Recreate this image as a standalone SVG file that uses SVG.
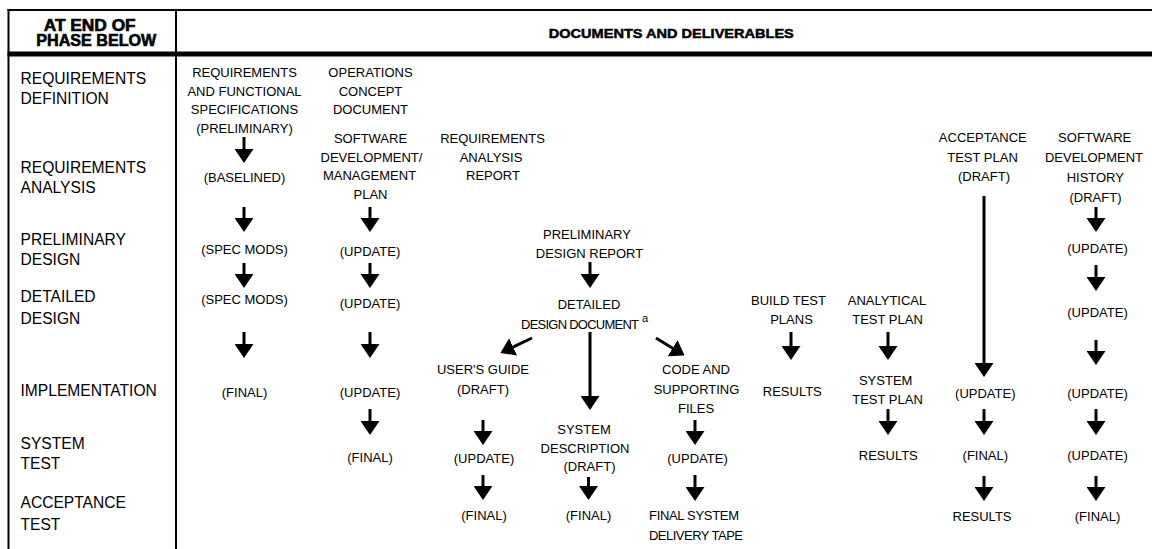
<svg xmlns="http://www.w3.org/2000/svg" width="1152" height="549" viewBox="0 0 1152 549">
<defs>
<style>
text{font-family:"Liberation Sans",Arial,sans-serif;fill:#000;}
.b{font-size:13px;text-anchor:middle;}
.s{font-size:13px;}
.ph{font-size:15.6px;}
.hd{font-size:16px;font-weight:bold;text-anchor:middle;stroke:#000;stroke-width:0.6px;}
.hd2{font-size:13px;font-weight:bold;text-anchor:middle;stroke:#000;stroke-width:0.5px;}
.sup{font-size:11px;}
.ar{stroke:#000;stroke-width:3;fill:none;marker-end:url(#ah);}
.rule{fill:#000;}
</style>
<marker id="ah" markerUnits="userSpaceOnUse" markerWidth="14" markerHeight="19" viewBox="0 0 14 19" refX="2" refY="9.5" orient="auto">
<path d="M0,0 L14,9.5 L0,19 z" fill="#000"/>
</marker>
</defs>
<rect width="1152" height="549" fill="#fff"/>

<g id="table-frame">
<rect class="rule" x="7.5" y="9" width="1144.5" height="2"/>
<rect class="rule" x="7.5" y="51.5" width="1144.5" height="5"/>
<rect class="rule" x="7.5" y="9" width="2" height="540"/>
<rect class="rule" x="175" y="9" width="2" height="540"/>
</g>

<g id="header-phase">
<text class="hd" x="89.7" y="30.7" textLength="92" lengthAdjust="spacingAndGlyphs">AT END OF</text>
<text class="hd" x="96.3" y="46" textLength="120" lengthAdjust="spacingAndGlyphs">PHASE BELOW</text>
</g>
<g id="header-docs">
<text class="hd2" x="671.3" y="37.7" textLength="245" lengthAdjust="spacingAndGlyphs">DOCUMENTS AND DELIVERABLES</text>
</g>

<g id="phases">
<text class="ph" x="20.5" y="83.5">REQUIREMENTS</text>
<text class="ph" x="20.5" y="104">DEFINITION</text>
<text class="ph" x="20.5" y="173.3">REQUIREMENTS</text>
<text class="ph" x="20.5" y="193.3">ANALYSIS</text>
<text class="ph" x="20.5" y="245">PRELIMINARY</text>
<text class="ph" x="20.5" y="265">DESIGN</text>
<text class="ph" x="20.5" y="302">DETAILED</text>
<text class="ph" x="20.5" y="323.5">DESIGN</text>
<text class="ph" x="20.5" y="396">IMPLEMENTATION</text>
<text class="ph" x="20.5" y="449">SYSTEM</text>
<text class="ph" x="20.5" y="469.3">TEST</text>
<text class="ph" x="20.5" y="508.3">ACCEPTANCE</text>
<text class="ph" x="20.5" y="529.5">TEST</text>
</g>

<g id="connectors">
<line class="ar" x1="244" y1="137" x2="244" y2="151"/>
<line class="ar" x1="244" y1="207" x2="244" y2="220"/>
<line class="ar" x1="244" y1="263" x2="244" y2="276"/>
<line class="ar" x1="244" y1="332" x2="244" y2="346"/>
<line class="ar" x1="370" y1="207" x2="370" y2="220"/>
<line class="ar" x1="370" y1="263" x2="370" y2="276"/>
<line class="ar" x1="370" y1="332" x2="370" y2="346"/>
<line class="ar" x1="370" y1="409" x2="370" y2="423"/>
<line class="ar" x1="590" y1="262" x2="590" y2="276"/>
<line class="ar" x1="590" y1="332" x2="590" y2="398"/>
<line class="ar" x1="532" y1="338" x2="511.3" y2="347.8"/>
<line class="ar" x1="656" y1="338" x2="674.3" y2="349.2"/>
<line class="ar" x1="483" y1="420" x2="483" y2="433"/>
<line class="ar" x1="483" y1="475" x2="483" y2="488"/>
<line class="ar" x1="588.5" y1="477" x2="588.5" y2="488"/>
<line class="ar" x1="695" y1="420" x2="695" y2="433"/>
<line class="ar" x1="695" y1="475" x2="695" y2="489"/>
<line class="ar" x1="791" y1="332" x2="791" y2="348"/>
<line class="ar" x1="888" y1="332" x2="888" y2="348"/>
<line class="ar" x1="888" y1="409" x2="888" y2="423"/>
<line class="ar" x1="984" y1="196" x2="984" y2="365"/>
<line class="ar" x1="984" y1="409" x2="984" y2="423"/>
<line class="ar" x1="984" y1="476" x2="984" y2="489"/>
<line class="ar" x1="1096" y1="207" x2="1096" y2="220"/>
<line class="ar" x1="1096" y1="265" x2="1096" y2="279"/>
<line class="ar" x1="1096" y1="340" x2="1096" y2="353"/>
<line class="ar" x1="1096" y1="409" x2="1096" y2="423"/>
<line class="ar" x1="1096" y1="476" x2="1096" y2="489"/>
</g>

<g id="req-func-spec">
<text class="b" x="244.5" y="77">REQUIREMENTS</text>
<text class="b" x="244.5" y="95.5">AND FUNCTIONAL</text>
<text class="b" x="244.5" y="114">SPECIFICATIONS</text>
<text class="b" x="244.5" y="132.5">(PRELIMINARY)</text>
</g>
<g id="rfs-baselined"><text class="b" x="244.5" y="182">(BASELINED)</text></g>
<g id="rfs-specmods-1"><text class="b" x="244.5" y="254">(SPEC MODS)</text></g>
<g id="rfs-specmods-2"><text class="b" x="244.5" y="304">(SPEC MODS)</text></g>
<g id="rfs-final"><text class="b" x="244.5" y="396.5">(FINAL)</text></g>

<g id="ops-concept">
<text class="b" x="370.5" y="77">OPERATIONS</text>
<text class="b" x="370.5" y="95.5">CONCEPT</text>
<text class="b" x="370.5" y="114">DOCUMENT</text>
</g>
<g id="sdmp">
<text class="b" x="370.5" y="142.7">SOFTWARE</text>
<text class="b" x="371.5" y="161.5">DEVELOPMENT/</text>
<text class="b" x="369.5" y="180.3">MANAGEMENT</text>
<text class="b" x="370.5" y="199.3">PLAN</text>
</g>
<g id="sdmp-update-1"><text class="b" x="370" y="256.3">(UPDATE)</text></g>
<g id="sdmp-update-2"><text class="b" x="370" y="308">(UPDATE)</text></g>
<g id="sdmp-update-3"><text class="b" x="370" y="396.5">(UPDATE)</text></g>
<g id="sdmp-final"><text class="b" x="370" y="461.5">(FINAL)</text></g>

<g id="req-analysis-report">
<text class="b" x="492.5" y="142.7">REQUIREMENTS</text>
<text class="b" x="491" y="161.5">ANALYSIS</text>
<text class="b" x="493" y="180.3">REPORT</text>
</g>

<g id="prelim-design-report">
<text class="b" x="587" y="239.3">PRELIMINARY</text>
<text class="b" x="589.5" y="257.7">DESIGN REPORT</text>
</g>

<g id="detailed-design-doc">
<text class="b" x="589" y="308.5">DETAILED</text>
<text class="s" x="521" y="328.5" textLength="118" lengthAdjust="spacing">DESIGN DOCUMENT</text>
<text class="sup" x="642" y="322">a</text>
</g>

<g id="users-guide">
<text class="b" x="483" y="374">USER'S GUIDE</text>
<text class="b" x="483" y="394">(DRAFT)</text>
</g>
<g id="ug-update"><text class="b" x="484" y="462.7">(UPDATE)</text></g>
<g id="ug-final"><text class="b" x="484" y="519.5">(FINAL)</text></g>

<g id="system-description">
<text class="b" x="584" y="433.5">SYSTEM</text>
<text class="b" x="585" y="452.7">DESCRIPTION</text>
<text class="b" x="589.5" y="471">(DRAFT)</text>
</g>
<g id="sd-final"><text class="b" x="588.5" y="519.5">(FINAL)</text></g>

<g id="code-files">
<text class="b" x="696" y="374">CODE AND</text>
<text class="b" x="696.5" y="394">SUPPORTING</text>
<text class="b" x="696" y="413.3">FILES</text>
</g>
<g id="code-update"><text class="b" x="697.5" y="462.7">(UPDATE)</text></g>
<g id="final-tape">
<text class="b" x="694" y="520" textLength="90" lengthAdjust="spacing">FINAL SYSTEM</text>
<text class="b" x="696" y="540" textLength="94" lengthAdjust="spacing">DELIVERY TAPE</text>
</g>

<g id="build-test-plans">
<text class="b" x="788.5" y="305">BUILD TEST</text>
<text class="b" x="791.5" y="324">PLANS</text>
</g>
<g id="build-results"><text class="b" x="792.3" y="396">RESULTS</text></g>

<g id="analytical-test-plan">
<text class="b" x="887" y="305">ANALYTICAL</text>
<text class="b" x="887.5" y="324">TEST PLAN</text>
</g>
<g id="system-test-plan">
<text class="b" x="885.7" y="385">SYSTEM</text>
<text class="b" x="887.5" y="404.3">TEST PLAN</text>
</g>
<g id="stp-results"><text class="b" x="888.3" y="460">RESULTS</text></g>

<g id="acceptance-test-plan">
<text class="b" x="982.8" y="142">ACCEPTANCE</text>
<text class="b" x="982.5" y="161.7">TEST PLAN</text>
<text class="b" x="984" y="181">(DRAFT)</text>
</g>
<g id="atp-update"><text class="b" x="985.3" y="398">(UPDATE)</text></g>
<g id="atp-final"><text class="b" x="985.3" y="460">(FINAL)</text></g>
<g id="atp-results"><text class="b" x="982" y="520.7">RESULTS</text></g>

<g id="sw-dev-history">
<text class="b" x="1094.7" y="141.7">SOFTWARE</text>
<text class="b" x="1094" y="161.7" textLength="98" lengthAdjust="spacing">DEVELOPMENT</text>
<text class="b" x="1095.3" y="181.7">HISTORY</text>
<text class="b" x="1095.5" y="201.7">(DRAFT)</text>
</g>
<g id="sdh-update-1"><text class="b" x="1097.5" y="252.5">(UPDATE)</text></g>
<g id="sdh-update-2"><text class="b" x="1097.5" y="316.7">(UPDATE)</text></g>
<g id="sdh-update-3"><text class="b" x="1097.5" y="398">(UPDATE)</text></g>
<g id="sdh-update-4"><text class="b" x="1097.5" y="460">(UPDATE)</text></g>
<g id="sdh-final"><text class="b" x="1097.5" y="520.7">(FINAL)</text></g>
</svg>
